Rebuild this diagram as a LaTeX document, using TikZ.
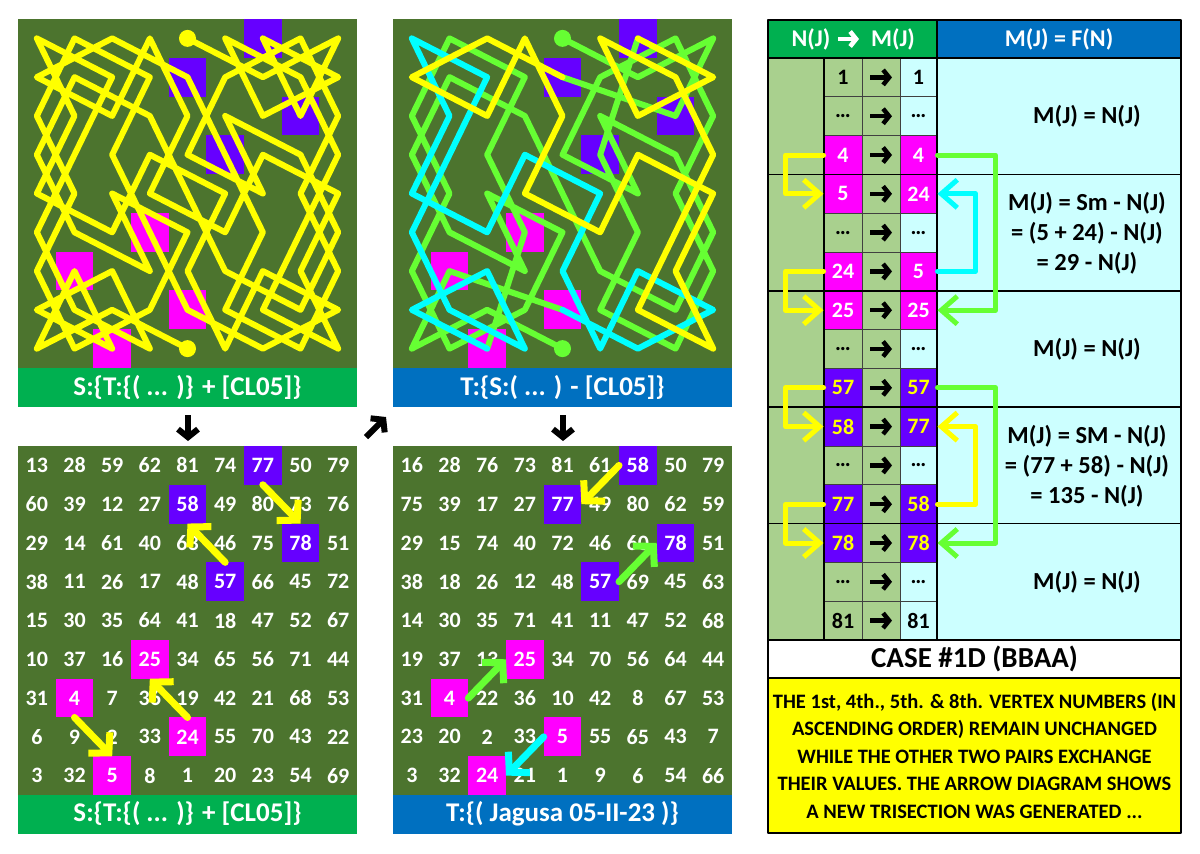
\documentclass[tikz,border=0pt]{standalone}
\usepackage{fontspec}
\setmainfont{Carlito}
\usetikzlibrary{arrows.meta}

%Colors
\definecolor{panelgreen}{RGB}{76,116,46}
\definecolor{bargreen}{RGB}{0,176,80}
\definecolor{barblue}{RGB}{0,112,192}
\definecolor{cellgreen}{RGB}{169,208,142}
\definecolor{cellcyan}{RGB}{204,255,255}
\definecolor{hotpink}{RGB}{255,0,255}
\definecolor{vtxpurple}{RGB}{102,0,255}
\definecolor{pathlime}{RGB}{102,255,51}
\definecolor{pathcyan}{RGB}{0,255,255}
\definecolor{pathyellow}{RGB}{255,255,0}

%the two boards, row by row
\newcommand\gridS{{13,28,59,62,81,74,77,50,79},{60,39,12,27,58,49,80,73,76},{29,14,61,40,63,46,75,78,51},{38,11,26,17,48,57,66,45,72},{15,30,35,64,41,18,47,52,67},{10,37,16,25,34,65,56,71,44},{31,4,7,36,19,42,21,68,53},{6,9,2,33,24,55,70,43,22},{3,32,5,8,1,20,23,54,69}}
\newcommand\gridT{{16,28,76,73,81,61,58,50,79},{75,39,17,27,77,49,80,62,59},{29,15,74,40,72,46,60,78,51},{38,18,26,12,48,57,69,45,63},{14,30,35,71,41,11,47,52,68},{19,37,13,25,34,70,56,64,44},{31,4,22,36,10,42,8,67,53},{23,20,2,33,5,55,65,43,7},{3,32,24,21,1,9,6,54,66}}

%coordinate for every number of board #1, named #2-<number>, board corner at (#3,#4)
\newcommand\placegrid[4]{%
	\foreach \gridrow [count=\gr from 0] in #1 {
		\foreach \v [count=\gc from 0] in \gridrow
			\coordinate (#2-\v) at ({#3+37.67*(\gc+0.5)},{#4+38.78*(\gr+0.5)});
	}}

\begin{document}
\begin{tikzpicture}
		[x=1pt,y=-1pt,line cap=round,line join=round,
		%Styles
		board/.style={fill=panelgreen},
		cellbox/.style={minimum width=37.67pt,minimum height=38.78pt,inner sep=0pt,outer sep=0pt},
		num/.style={cellbox,text=white,font=\fontsize{22}{26}\selectfont\bfseries},
		bar/.style={minimum width=339pt,minimum height=39pt,inner sep=0pt,text=white,font=\fontsize{27}{30}\selectfont\bfseries},
		trail/.style={line width=6pt},
		swaparrow/.style={line width=7pt,-{Straight Barb[length=14pt,width=30pt]}},
		tcell/.style={draw=black!75,line width=1pt,minimum width=38pt,minimum height=38.8pt,inner sep=0pt,font=\fontsize{22}{26}\selectfont\bfseries},
		tbrack/.style={line width=5pt,-{Straight Barb[length=16pt,width=28pt]}},
		ftext/.style={align=center,font=\fontsize{24.5}{30}\selectfont\bfseries},
		headtext/.style={text=white,inner sep=0pt,font=\fontsize{24}{28}\selectfont\bfseries},
		fatarrow/.style={line width=4.5pt,line cap=butt,-{Straight Barb[length=6pt,width=15pt,line cap=butt]}},
		bigarrow/.style={line width=6pt,line cap=butt,-{Straight Barb[length=8pt,width=20pt,line cap=butt]}}
		]
		\useasboundingbox (0,0) rectangle (1200,854);
		\fill[white] (0,0) rectangle (1200,854);

		%The graphic
		%top left: path of S
		\fill[board] (18,19) rectangle (357,368);
		\placegrid{\gridS}{ts}{18}{19}
		\foreach \v in {4,5,24,25} \node[cellbox,fill=hotpink] at (ts-\v) {};
		\foreach \v in {57,58,77,78} \node[cellbox,fill=vtxpurple] at (ts-\v) {};
		\draw[trail,pathyellow] (ts-1) \foreach \k in {2,...,81} {-- (ts-\k)};
		\fill[pathyellow] (ts-1) circle (8.5pt) (ts-81) circle (8.5pt);
		\node[bar,fill=bargreen] (barA) at (187.5,387.5) {S:\{T:\{( ... )\} + [CL05]\}};

		%top middle: path of T
		\fill[board] (393,19) rectangle (732,368);
		\placegrid{\gridT}{tt}{393}{19}
		\foreach \v in {4,5,24,25} \node[cellbox,fill=hotpink] at (tt-\v) {};
		\foreach \v in {57,58,77,78} \node[cellbox,fill=vtxpurple] at (tt-\v) {};
		\draw[trail,pathlime] (tt-1) \foreach \k in {2,...,5} {-- (tt-\k)};
		\draw[trail,pathlime] (tt-24) \foreach \k in {25,...,58} {-- (tt-\k)};
		\draw[trail,pathlime] (tt-77) \foreach \k in {78,...,81} {-- (tt-\k)};
		\draw[trail,pathcyan] (tt-5) \foreach \k in {6,...,24} {-- (tt-\k)};
		\draw[trail,pathyellow] (tt-58) \foreach \k in {59,...,77} {-- (tt-\k)};
		\fill[pathlime] (tt-1) circle (8.5pt) (tt-81) circle (8.5pt);
		\node[bar,fill=barblue] (barB) at (562.5,387.5) {T:\{S:( ... ) - [CL05]\}};

		%arrows between the panels
		\coordinate (downA) at (188,415);
		\coordinate (upB) at (366,437);
		\coordinate (downB) at (563,415);
		\draw[bigarrow] (downA) -- ++(0,26);
		\draw[bigarrow] (upB) -- ++(20,-20);
		\draw[bigarrow] (downB) -- ++(0,26);

		%bottom left: board S
		\fill[board] (18,446) rectangle (357,795);
		\placegrid{\gridS}{bs}{18}{446}
		\foreach \v in {4,5,24,25} \node[cellbox,fill=hotpink] at (bs-\v) {};
		\foreach \v in {57,58,77,78} \node[cellbox,fill=vtxpurple] at (bs-\v) {};
		\foreach \v in {1,...,81} \node[num] (ns-\v) at (bs-\v) {\v};
		\draw[swaparrow,pathyellow] (ns-77.south) -- (ns-78.north);
		\draw[swaparrow,pathyellow] (ns-57.north) -- (ns-58.south);
		\draw[swaparrow,pathyellow] (ns-24.north) -- (ns-25.south);
		\draw[swaparrow,pathyellow] (ns-4.south) -- (ns-5.north);
		\node[bar,fill=bargreen] (barC) at (187.5,814) {S:\{T:\{( ... )\} + [CL05]\}};

		%bottom middle: board T
		\fill[board] (393,446) rectangle (732,795);
		\placegrid{\gridT}{bt}{393}{446}
		\foreach \v in {4,5,24,25} \node[cellbox,fill=hotpink] at (bt-\v) {};
		\foreach \v in {57,58,77,78} \node[cellbox,fill=vtxpurple] at (bt-\v) {};
		\foreach \v in {1,...,81} \node[num] (nt-\v) at (bt-\v) {\v};
		\draw[swaparrow,pathyellow] (nt-58.west) -- (nt-77.east);
		\draw[swaparrow,pathlime] (nt-57.east) -- (nt-78.west);
		\draw[swaparrow,pathlime] (nt-4.east) -- (nt-25.west);
		\draw[swaparrow,pathcyan] (nt-5.west) -- (nt-24.east);
		\node[bar,fill=barblue] (barD) at (562.5,814) {T:\{( Jagusa 05-II-23 )\}};

		%table
		\fill[bargreen] (768,20) rectangle (937,58);
		\node[headtext] (headNJ) at (811,39) {N(J)};
		\node[headtext] (headMJ) at (893,39) {M(J)};
		\draw[fatarrow,white] (838,39) -- (859,39);
		\node[fill=barblue,minimum width=244pt,minimum height=38pt,headtext] (headF) at (1059,39) {M(J) = F(N)};
		\fill[cellgreen] (768,58) rectangle (824,640);
		\fill[cellcyan] (937,58) rectangle (1181,640);
		\foreach \nv/\mv/\bn/\bm/\fg [count=\i from 0] in {1/1/cellgreen/cellcyan/black,\dots/\dots/cellgreen/cellcyan/black,4/4/hotpink/hotpink/white,5/24/hotpink/hotpink/white,\dots/\dots/cellgreen/cellcyan/black,24/5/hotpink/hotpink/white,25/25/hotpink/hotpink/white,\dots/\dots/cellgreen/cellcyan/black,57/57/vtxpurple/vtxpurple/pathyellow,58/77/vtxpurple/vtxpurple/pathyellow,\dots/\dots/cellgreen/cellcyan/black,77/58/vtxpurple/vtxpurple/pathyellow,78/78/vtxpurple/vtxpurple/pathyellow,\dots/\dots/cellgreen/cellcyan/black,81/81/cellgreen/cellcyan/black} {
			\node[tcell,fill=\bn,text=\fg] (n\i) at (843,{58+38.8*(\i+0.5)}) {\nv};
			\node[tcell,fill=cellgreen] (a\i) at (881,{58+38.8*(\i+0.5)}) {};
			\draw[fatarrow] ([xshift=-11pt]a\i.center) -- ++(22,0);
			\node[tcell,fill=\bm,text=\fg,minimum width=37pt] (m\i) at (918.5,{58+38.8*(\i+0.5)}) {\mv};
		}
		\foreach \g in {3,6,9,12} \draw[line width=1.6pt] (768,{58+38.8*\g}) -- (1181,{58+38.8*\g});
		\draw[line width=1.6pt] (768,20) rectangle (1181,640) (768,58) -- (1181,58) (937,20) -- (937,640) (824,58) -- (824,640);

		\node[ftext] (f1) at (1087,116) {M(J) = N(J)};
		\node[ftext] (f2) at (1087,233) {M(J) = Sm - N(J)\\= (5 + 24) - N(J)\\= 29 - N(J)};
		\node[ftext] (f3) at (1087,349) {M(J) = N(J)};
		\node[ftext] (f4) at (1087,466) {M(J) = SM - N(J)\\= (77 + 58) - N(J)\\= 135 - N(J)};
		\node[ftext] (f5) at (1087,582) {M(J) = N(J)};

		\draw[tbrack,pathyellow] (n2.west) -- ++(-38,0) |- (n3.west);
		\draw[tbrack,pathyellow] (n5.west) -- ++(-38,0) |- (n6.west);
		\draw[tbrack,pathyellow] (n8.west) -- ++(-38,0) |- (n9.west);
		\draw[tbrack,pathyellow] (n11.west) -- ++(-38,0) |- (n12.west);
		\draw[tbrack,pathlime] (m2.east) -- ++(58,0) |- (m6.east);
		\draw[tbrack,pathcyan] (m5.east) -- ++(38,0) |- (m3.east);
		\draw[tbrack,pathlime] (m8.east) -- ++(58,0) |- (m12.east);
		\draw[tbrack,pathyellow] (m11.east) -- ++(38,0) |- (m9.east);

		\node[draw,line width=1.6pt,fill=white,minimum width=413pt,minimum height=38pt,font=\fontsize{29}{32}\selectfont\bfseries] (case) at (974.5,659) {CASE \#1D (BBAA)};
		\node[draw,line width=1.6pt,fill=pathyellow,minimum width=413pt,minimum height=155pt,align=center,font=\fontsize{20.5}{27.5}\selectfont\bfseries] (note) at (974.5,755.5) {THE 1st, 4th., 5th. \& 8th. VERTEX NUMBERS (IN\\ASCENDING ORDER) REMAIN UNCHANGED\\WHILE THE OTHER TWO PAIRS EXCHANGE\\THEIR VALUES. THE ARROW DIAGRAM SHOWS\\A NEW TRISECTION WAS GENERATED ...};
	\end{tikzpicture}
\end{document}
